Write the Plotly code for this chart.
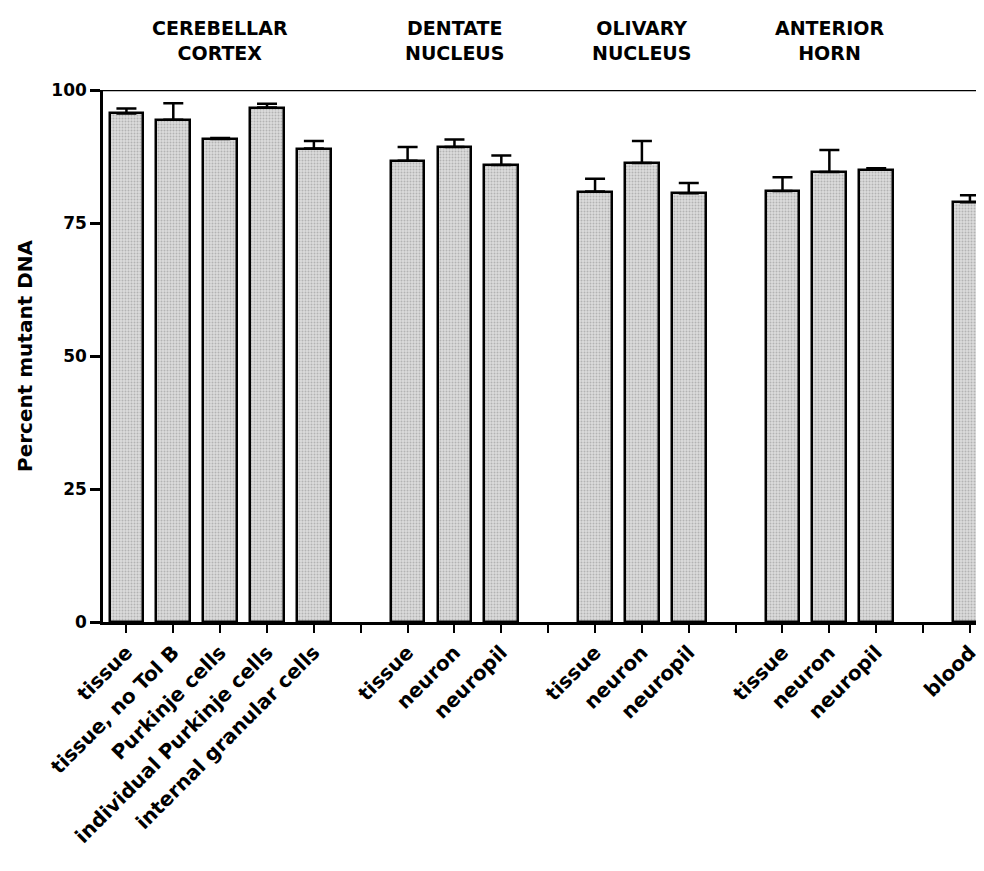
import plotly.graph_objects as go

# ---- data ----
group_names = ["CEREBELLAR<br>CORTEX", "DENTATE<br>NUCLEUS", "OLIVARY<br>NUCLEUS", "ANTERIOR<br>HORN", ""]
group_labels = [
    ["tissue", "tissue, no Tol B", "Purkinje cells", "individual Purkinje cells", "internal granular cells"],
    ["tissue", "neuron", "neuropil"],
    ["tissue", "neuron", "neuropil"],
    ["tissue", "neuron", "neuropil"],
    ["blood"],
]
group_values = [
    [95.6, 94.4, 90.8, 96.7, 89.0],
    [86.7, 89.3, 85.9],
    [80.9, 86.3, 80.6],
    [81.0, 84.6, 85.0],
    [78.9],
]
group_errors = [
    [0.9, 3.1, 0.2, 0.7, 1.4],
    [2.6, 1.4, 1.8],
    [2.4, 4.1, 1.9],
    [2.6, 4.1, 0.3],
    [1.3],
]
y_ticks = [0, 25, 50, 75, 100]

# ---- build slot positions (one empty slot between groups) ----
xs, labels, vals, errs = [], [], [], []
tick_pos, tick_text = [], []
group_centers = []
slot = 0
for gi, (labs, vs, es) in enumerate(zip(group_labels, group_values, group_errors)):
    start = slot
    for lab, v, e in zip(labs, vs, es):
        xs.append(slot); labels.append(lab); vals.append(v); errs.append(e)
        tick_pos.append(slot); tick_text.append(lab)
        slot += 1
    group_centers.append((start + slot - 1) / 2)
    if gi < len(group_labels) - 1:
        tick_pos.append(slot); tick_text.append("")
        slot += 1

FONT = "DejaVu Sans, Liberation Sans, Arial, sans-serif"

fig = go.Figure()
fig.add_trace(go.Bar(
    x=xs, y=vals, width=0.72,
    marker=dict(color="#cdcdcd", line=dict(color="black", width=2.5),
                pattern=dict(shape=".", fgcolor="#8a8a8a", bgcolor="#dcdcdc", size=3, solidity=0.35)),
    error_y=dict(type="data", array=errs, arrayminus=[0] * len(errs), symmetric=False,
                 color="black", thickness=2.5, width=10),
    hovertext=labels, showlegend=False,
))

for name, c in zip(group_names, group_centers):
    if name:
        fig.add_annotation(x=c, y=1.0, xref="x", yref="paper", yshift=50, text=name,
                           showarrow=False, font=dict(family=FONT, size=19, color="black", weight="bold"),
                           align="center", yanchor="middle")

fig.add_shape(type="line", xref="paper", yref="y", x0=0, x1=1, y0=100, y1=100,
              line=dict(color="black", width=2.5))

# page body has an 8px margin; size the figure so it fits the window without scrollbars
fig.update_layout(
    width=976, height=855,
    margin=dict(l=95, r=0, t=82, b=241, autoexpand=False),
    plot_bgcolor="white", paper_bgcolor="white",
    font=dict(family=FONT, color="black"),
    xaxis=dict(range=[-0.5, 18.3], tickmode="array", tickvals=tick_pos, ticktext=tick_text,
               tickangle=-45, showline=True, linecolor="black", linewidth=2.5,
               ticks="outside", ticklen=8, tickwidth=2, tickcolor="black",
               tickfont=dict(family=FONT, size=20, color="black", weight="bold"),
               showgrid=False, zeroline=False, automargin=False),
    yaxis=dict(range=[0, 100], tickmode="array", tickvals=y_ticks,
               showline=True, linecolor="black", linewidth=2.5,
               ticks="outside", ticklen=10, tickwidth=2.5, tickcolor="black",
               tickfont=dict(family=FONT, size=17, color="black", weight="bold"),
               showgrid=False, zeroline=False, automargin=False,
               title=dict(text="Percent mutant DNA", standoff=14,
                          font=dict(family=FONT, size=20, color="black", weight="bold"))),
    bargap=0,
)

fig.write_html("out.html")
